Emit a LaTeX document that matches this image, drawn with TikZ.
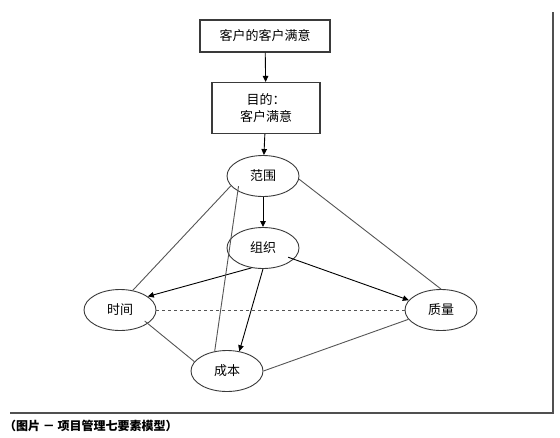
\documentclass[tikz,border=0pt]{standalone}
\usepackage{fontspec}
\setmainfont{Noto Sans CJK SC}
\usepackage{xcolor}
\definecolor{edge}{HTML}{3A3A3A}
\definecolor{soft}{HTML}{555555}
\definecolor{framegray}{HTML}{505050}
\usetikzlibrary{arrows.meta,shapes.geometric}

\begin{document}
\begin{tikzpicture}[x=1pt,y=-1pt,
  font=\fontsize{13}{17}\selectfont,
  box/.style={draw=edge,line width=1.1pt,minimum width=130pt,minimum height=32pt,
    inner sep=2pt,align=center},
  elem/.style={ellipse,draw=edge,line width=0.9pt,minimum width=72pt,minimum height=41pt,
    inner sep=0pt},
  fwd/.style={-{Triangle[length=6pt,width=5.5pt]},black,line width=0.9pt},
  tie/.style={soft,line width=0.9pt},
  rim/.style={framegray,line width=2pt},
  captext/.style={font=\fontsize{12}{14}\selectfont\bfseries,anchor=west,inner sep=0pt}]
\useasboundingbox (0,0) rectangle (560,437);
\draw[rim] (10,413) -- (553,413) -- (553,12);
\node[box] (goal) at (265,36) {客户的客户满意};
\node[box,minimum width=108pt,minimum height=51pt] (aim) at (266,108) {目的：\\客户满意};
\node[elem] (fanwei) at (263,176) {范围};
\node[elem] (zuzhi) at (263,248) {组织};
\node[elem] (shijian) at (120,310) {时间};
\node[elem] (zhiliang) at (441,310) {质量};
\node[elem] (chengben) at (227,371) {成本};
\draw[fwd] (goal) -- (aim);
\draw[fwd] (aim) -- (fanwei);
\draw[fwd] (fanwei) -- (zuzhi);
\draw[fwd] (zuzhi.240) -- (shijian.26);
\draw[fwd] (zuzhi.south) -- (chengben.58);
\draw[fwd,shorten <=-6pt] (zuzhi.340) -- (zhiliang.163);
\draw[tie] (fanwei.197) -- (shijian.57);
\draw[tie] (fanwei.355) -- (zhiliang.north);
\draw[tie,shorten <=-5pt] (fanwei.211) -- (chengben.122);
\draw[tie,dashed] (shijian.east) -- (zhiliang.west);
\draw[tie,shorten <=-4pt] (shijian.334) -- (chengben.164);
\draw[tie] (chengben.east) -- (zhiliang.196);
\node[captext] (caption) at (4,426) {（图片 － 项目管理七要素模型）};
\end{tikzpicture}
\end{document}
